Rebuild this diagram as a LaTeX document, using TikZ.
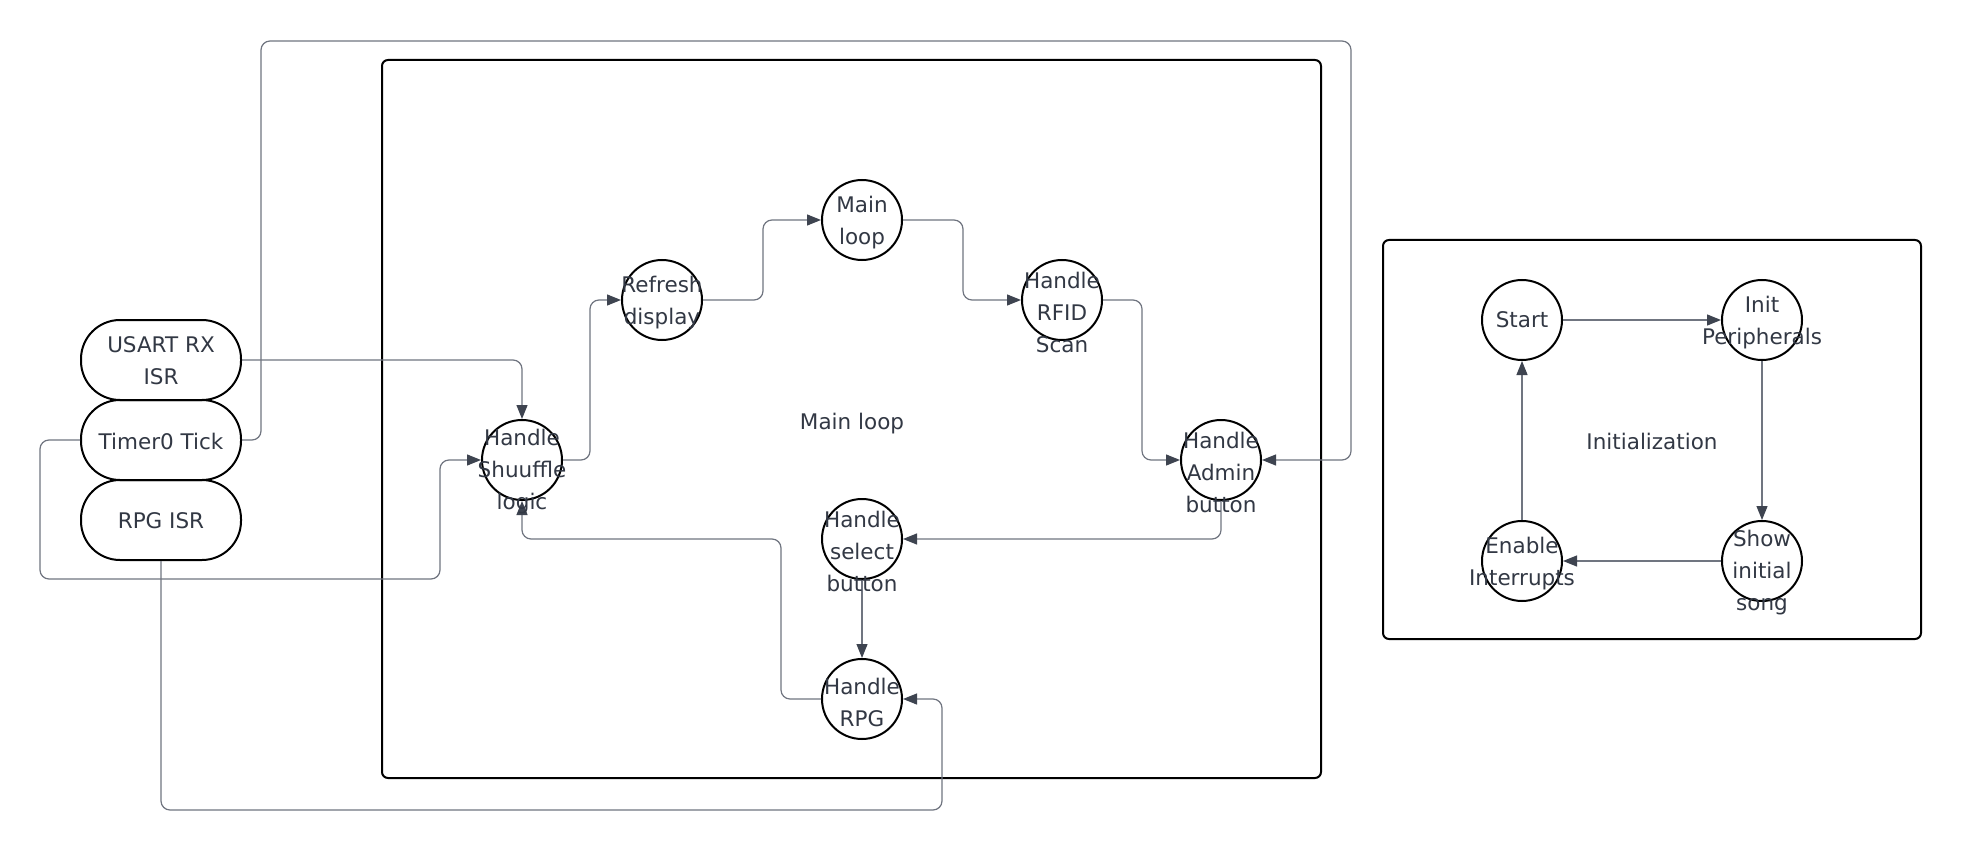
\documentclass[tikz,border=0pt]{standalone}
\usepackage{fontspec}
\setmainfont{DejaVu Sans}
\usetikzlibrary{arrows.meta}
\definecolor{txtc}{RGB}{50,56,68}
\definecolor{connc}{RGB}{112,117,128}
\definecolor{tipc}{RGB}{62,68,80}
\begin{document}
\begin{tikzpicture}[x=1pt,y=-1pt,
  state/.style={circle,draw=black,line width=2pt,minimum size=80pt,inner sep=0pt},
  lbl/.style={text=txtc,align=center,font=\fontsize{21.5}{32}\selectfont,inner sep=0pt},
  lbltwo/.style={lbl,yshift=-3pt},
  lblthree/.style={lbl,yshift=-12pt},
  pill/.style={draw=black,line width=2pt,rounded corners=39pt,minimum width=160pt,minimum height=80pt,inner sep=0pt},
  frame/.style={draw=black,line width=2pt,rounded corners=6pt,inner sep=0pt},
  conn/.style={draw=connc,line width=1.2pt,rounded corners=9pt,-{Triangle[length=14pt,width=11pt,color=tipc]}}
]
\useasboundingbox[fill=white] (0,0) rectangle (1962,850);

% frames
\node[frame,minimum width=939pt,minimum height=718pt] (mainbox) at (851.5,419) {};
\node[frame,minimum width=538pt,minimum height=399pt] (initbox) at (1652,439.5) {};
\node[lbl] (tmainbox) at (852,424) {Main loop};
\node[lbl] (tinitbox) at (1652,441) {Initialization};

% ISR pills
\node[pill] (usart) at (161,360) {};
\node[pill] (timer) at (161,440) {};
\node[pill] (rpgisr) at (161,520) {};
\node[lbl,yshift=-1pt] (tusart) at (usart) {USART RX\\ISR};
\node[lbl,yshift=-1pt] (ttimer) at (timer) {Timer0 Tick};
\node[lbl,yshift=-1pt] (trpgisr) at (rpgisr) {RPG ISR};

% main loop states
\node[state] (shuf) at (522,460) {};
\node[state] (refresh) at (662,300) {};
\node[state] (mainl) at (862,220) {};
\node[state] (rfid) at (1062,300) {};
\node[state] (admin) at (1221,460) {};
\node[state] (select) at (862,539) {};
\node[state] (rpg) at (862,699) {};

% init states
\node[state] (start) at (1522,320) {};
\node[state] (initp) at (1762,320) {};
\node[state] (show) at (1762,561) {};
\node[state] (enable) at (1522,561) {};

% connectors
\draw[conn] (usart.east) -| (shuf.north);
\draw[conn] (timer.east) -- ++(19,0) |- (1351,41) |- (admin.east);
\draw[conn] (timer.west) -- ++(-40,0) |- (440,579) |- (shuf.west);
\draw[conn] (rpgisr.south) |- (942,810) |- (rpg.east);
\draw[conn] (shuf.east) -- ++(27,0) |- (refresh.west);
\draw[conn] (refresh.east) -- ++(60,0) |- (mainl.west);
\draw[conn] (mainl.east) -- ++(60,0) |- (rfid.west);
\draw[conn] (rfid.east) -- ++(39,0) |- (admin.west);
\draw[conn] (admin.south) |- (select.east);
\draw[conn] (select.south) -- (rpg.north);
\draw[conn] (rpg.west) -| (781,539) -| (shuf.south);
\draw[conn] (start.east) -- (initp.west);
\draw[conn] (initp.south) -- (show.north);
\draw[conn] (show.west) -- (enable.east);
\draw[conn] (enable.north) -- (start.south);

% labels
\node[lblthree] (tshuf) at (shuf) {Handle\\Shuuffle\\logic};
\node[lbltwo] (trefresh) at (refresh) {Refresh\\display};
\node[lbltwo] (tmainl) at (mainl) {Main\\loop};
\node[lblthree] (trfid) at (rfid) {Handle\\RFID\\Scan};
\node[lblthree] (tadmin) at (admin) {Handle\\Admin\\button};
\node[lblthree] (tselect) at (select) {Handle\\select\\button};
\node[lbltwo] (trpg) at (rpg) {Handle\\RPG};
\node[lbl] (tstart) at (start) {Start};
\node[lbltwo] (tinitp) at (initp) {Init\\Peripherals};
\node[lblthree] (tshow) at (show) {Show\\initial\\song};
\node[lbltwo] (tenable) at (enable) {Enable\\Interrupts};
\end{tikzpicture}
\end{document}
